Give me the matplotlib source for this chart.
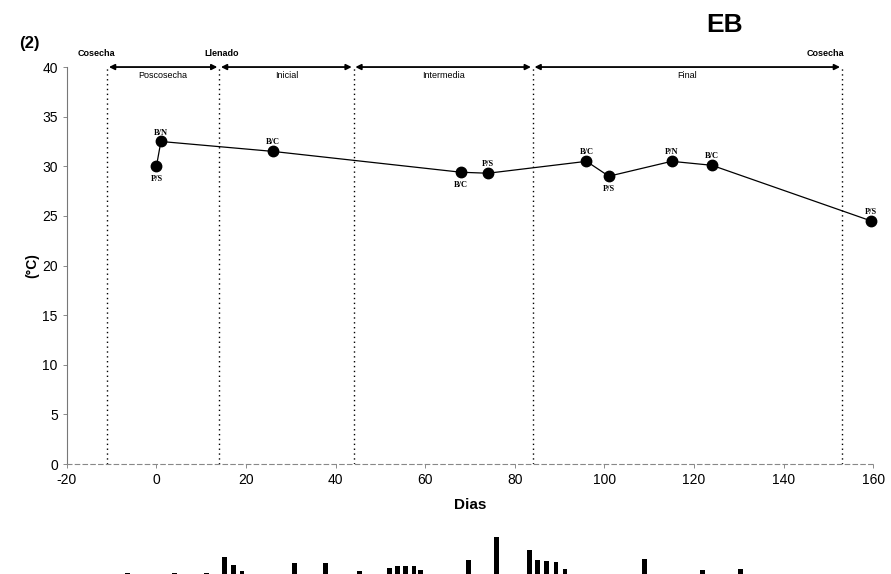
import matplotlib
matplotlib.use("Agg")
import matplotlib.pyplot as plt

# temperature series (dias, °C) and point labels
dias = [0, 1, 26, 68, 74, 96, 101, 115, 124, 159.5]
temp = [30.0, 32.5, 31.5, 29.4, 29.3, 30.5, 29.0, 30.5, 30.1, 24.5]
etiquetas = ["P/S", "B/N", "B/C", "B/C", "P/S", "B/C", "P/S", "P/N", "B/C", "P/S"]
arriba = [False, True, True, False, True, True, False, True, True, True]

# phase limits (dias)
limites = [-11, 14, 44, 84, 153]
fases = ["Poscosecha", "Inicial", "Intermedia", "Final"]
eventos = ["Cosecha", "Llenado", "Cosecha"]
eventos_x = [-13.5, 14.6, 149.4]

# fragment of the next chart (cut off at the bottom of the page)
frag_x = [-6.4, 4.1, 11.2, 15.3, 17.3, 19.1, 30.9, 37.8, 45.4, 52.1, 53.9, 55.7,
          57.5, 59.0, 69.7, 76.0, 83.3, 85.1, 87.1, 89.2, 91.2, 109.0, 122.0, 130.4]
frag_h = [1, 1, 1, 17, 9, 3, 11, 11, 3, 6, 8, 8,
          8, 4, 14, 37, 24, 14, 13, 12, 5, 15, 4, 5]

plt.rcParams['font.family'] = ['Liberation Sans', 'DejaVu Sans']
plt.rcParams['axes.unicode_minus'] = False

fig = plt.figure(figsize=(8.91, 5.74), dpi=100)
ax = fig.add_axes([0.075, 0.1916, 0.905, 0.6916])

ax.plot(dias, temp, color='black', linewidth=0.9, marker='o', markersize=7.5,
        markerfacecolor='black', zorder=3, clip_on=False)

for x, y, t, up in zip(dias, temp, etiquetas, arriba):
    off = 0.9 if up else -1.3
    ax.text(x, y + off, t, ha='center', va='center', fontsize=6,
            family='Liberation Serif', fontweight='bold')

for lx in limites:
    ax.axvline(lx, color='black', linestyle=(0, (1, 2.5)), linewidth=1.0, zorder=1)

for a, b, name in zip(limites[:-1], limites[1:], fases):
    ax.annotate("", xy=(a + 0.4, 40), xytext=(b - 0.4, 40),
                arrowprops=dict(arrowstyle='<|-|>', color='black', lw=1.3,
                                mutation_scale=8, shrinkA=0, shrinkB=0),
                annotation_clip=False)
    ax.text((a + b) / 2, 39.1, name, ha='center', va='center', fontsize=6.5)

for x, name in zip(eventos_x, eventos):
    ax.text(x, 41.4, name, ha='center', va='center', fontsize=6.5, fontweight='bold')

ax.set_xlim(-20, 160)
ax.set_ylim(0, 40)
ax.set_xticks(range(-20, 161, 20))
ax.set_yticks(range(0, 41, 5))
ax.tick_params(labelsize=10, length=3, width=0.6, color='#777777')
ax.spines['top'].set_visible(False)
ax.spines['right'].set_visible(False)
ax.spines['left'].set_color('#777777')
ax.spines['left'].set_linewidth(0.8)
ax.spines['bottom'].set_color('#888888')
ax.spines['bottom'].set_linestyle((0, (4, 3)))
ax.spines['bottom'].set_linewidth(0.8)
ax.set_xlabel("Dias", fontsize=11, fontweight='bold', labelpad=8)
ax.set_ylabel("(°C)", fontsize=10, fontweight='bold', labelpad=2)

fig.text(0.022, 0.925, "(2)", fontsize=12, fontweight='bold', va='center')
fig.text(0.813, 0.957, "EB", fontsize=19, fontweight='bold', va='center', ha='center')

# bottom fragment
ax2 = fig.add_axes([0.075, 0.0, 0.905, 0.07])
ax2.bar(frag_x, frag_h, width=1.1, color='black')
ax2.set_xlim(-20, 160)
ax2.set_ylim(0, 40)
ax2.axis('off')

fig.savefig("out.png", dpi=100)
